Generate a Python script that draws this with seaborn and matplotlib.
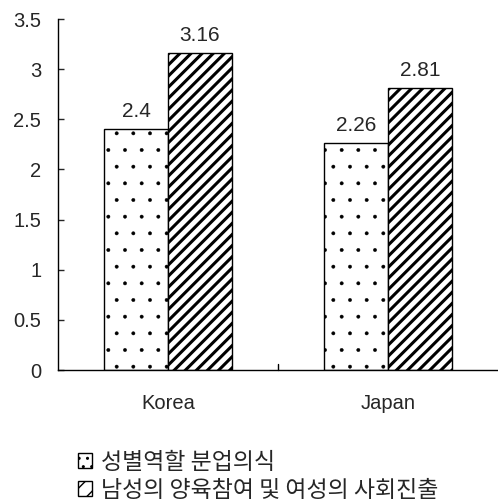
import matplotlib
matplotlib.use("Agg")
import matplotlib.pyplot as plt
import seaborn as sns
import pandas as pd
from matplotlib.patches import Patch

countries = ["Korea", "Japan"]
series = ["성별역할 분업의식", "남성의 양육참여 및 여성의 사회진출"]
values_s1 = [2.4, 2.26]
values_s2 = [3.16, 2.81]
labels_s1 = ["2.4", "2.26"]
labels_s2 = ["3.16", "2.81"]
yticks = [0, 0.5, 1, 1.5, 2, 2.5, 3, 3.5]
ytick_labels = ["0", "0.5", "1", "1.5", "2", "2.5", "3", "3.5"]

df = pd.DataFrame({
    "country": countries * 2,
    "series": [series[0]] * 2 + [series[1]] * 2,
    "value": values_s1 + values_s2,
})

sns.set_style("white")
plt.rcParams['font.family'] = ['Noto Sans CJK KR', 'DejaVu Sans']

NUM_FONT = 'Liberation Sans'

fig = plt.figure(figsize=(4.98, 5.03), dpi=100)
ax = fig.add_axes([0.1165, 0.2644, 0.8835, 0.6978])

sns.barplot(data=df, x="country", y="value", hue="series", order=countries,
            hue_order=series, palette=["white", "white"], width=0.58,
            edgecolor="black", linewidth=1.0, ax=ax, legend=False, saturation=1)

hatches = [".", "///"]
hatch_lws = [0.3, 2.2]
for i, cont in enumerate(ax.containers):
    for p in cont:
        p.set_hatch(hatches[i])
        p.set_edgecolor("black")
        try:
            p.set_hatch_linewidth(hatch_lws[i])
        except AttributeError:
            pass
    labs = labels_s1 if i == 0 else labels_s2
    ax.bar_label(cont, labels=labs, padding=6, fontsize=15, fontfamily=NUM_FONT)

ax.set_xlim(-0.5, 1.5)
ax.set_ylim(0, 3.5)
ax.set_yticks(yticks)
ax.set_yticklabels(ytick_labels, fontsize=14.5, fontfamily=NUM_FONT)
ax.set_xticks([0, 0.5, 1])
ax.set_xticklabels(["Korea", "", "Japan"], fontsize=14.5, fontfamily=NUM_FONT)
ax.tick_params(axis='y', direction='in', length=4, width=1, pad=12, left=True)
ax.tick_params(axis='x', direction='in', length=0, pad=17)
ax.plot([0.5, 0.5], [0, 0.06], color='black', lw=1, clip_on=False)
ax.set_xlabel("")
ax.set_ylabel("")
for s in ["top", "right"]:
    ax.spines[s].set_visible(False)
for s in ["left", "bottom"]:
    ax.spines[s].set_color("black")
    ax.spines[s].set_linewidth(1.0)

handles = []
for h, l in zip(["..", "//"], series):
    hp = Patch(facecolor="white", edgecolor="black", hatch=h, label=l, linewidth=1.0)
    try:
        hp.set_hatch_linewidth(1.0)
    except AttributeError:
        pass
    handles.append(hp)
fig.legend(handles=handles, loc="upper left", bbox_to_anchor=(0.138, 0.122),
           frameon=False, prop={'size': 16.5, 'weight': 'medium'},
           handlelength=0.6, handleheight=0.6,
           handletextpad=0.4, labelspacing=0.22, borderaxespad=0)

fig.savefig("out.png", dpi=100)
